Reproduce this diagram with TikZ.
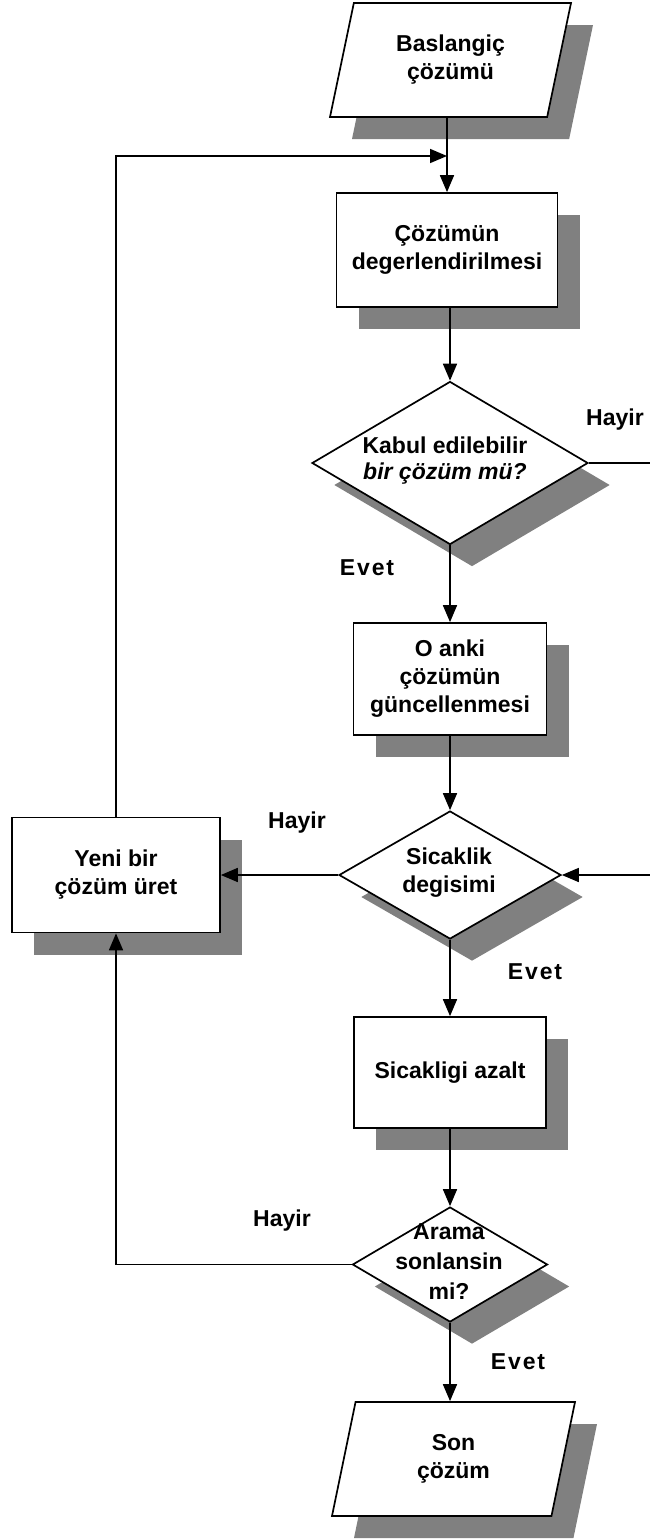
\documentclass[tikz,border=0pt]{standalone}
\usepackage{fontspec}
\setmainfont{Liberation Sans}
\newfontfamily\spacedfont[LetterSpace=8]{Liberation Sans}
\usetikzlibrary{shapes.geometric,shadows,arrows.meta}
\begin{document}
\begin{tikzpicture}[x=1pt,y=-1pt,
  txt/.style={font=\fontsize{23}{28}\selectfont\bfseries, align=center},
  shp/.style={txt, draw=black, line width=1.7pt, fill=white, inner sep=0pt,
    drop shadow={shadow xshift=22pt, shadow yshift=-22pt, fill=black!50, opacity=1}},
  box/.style={shp, rectangle},
  dec/.style={shp, diamond},
  io/.style={shp, trapezium, trapezium left angle=64.25, trapezium right angle=115.75,
    trapezium stretches body},
  lbl/.style={font=\fontsize{23}{28}\selectfont\bfseries},
  evetlbl/.style={font=\fontsize{23}{28}\spacedfont\bfseries},
  conn/.style={line width=1.7pt},
  arr/.style={conn, -{Triangle[length=17pt,width=14pt]}}
]
\useasboundingbox (0,0) rectangle (650,1539);

% shapes
\node[io, minimum width=241pt, minimum height=114pt] (start) at (450.5,60) {Baslangiç\\çözümü};
\node[box, minimum width=221pt, minimum height=114pt] (box1) at (447,250) {Çözümün\\degerlendirilmesi};
\node[dec, minimum width=276pt, minimum height=163pt] (d1) at (450,463) {};
\node[txt, font=\fontsize{23}{26}\selectfont\bfseries] (d1t) at (445,461) {Kabul edilebilir\\\textit{bir çözüm mü?}};
\node[box, minimum width=193pt, minimum height=112pt] (box2) at (450,679) {O anki\\çözümün\\güncellenmesi};
\node[dec, minimum width=222pt, minimum height=128pt] (d2) at (450,875) {};
\node[txt] (d2t) at (449,873) {Sicaklik\\degisimi};
\node[box, minimum width=208pt, minimum height=115pt] (yeni) at (116,875) {Yeni bir\\çözüm üret};
\node[box, minimum width=192pt, minimum height=111pt] (box3) at (450,1072.5) {Sicakligi azalt};
\node[dec, minimum width=195pt, minimum height=115pt] (d3) at (450,1264.5) {};
\node[txt, font=\fontsize{23}{30}\selectfont\bfseries] (d3t) at (449,1262) {Arama\\sonlansin\\mi?};
\node[io, minimum width=243pt, minimum height=114pt] (final) at (453.5,1459) {Son\\çözüm};

% labels
\node[lbl] (h1) at (615,420) {Hayir};
\node[evetlbl] (e1) at (367,568) {Evet};
\node[lbl] (h2) at (297,823) {Hayir};
\node[evetlbl] (e2) at (535,972) {Evet};
\node[lbl] (h3) at (282,1221) {Hayir};
\node[evetlbl] (e3) at (518,1362) {Evet};

% helper coordinates
\coordinate (loopy) at (0,156);
\coordinate (join) at (box1.north |- loopy);
\coordinate (r1) at (650,463);
\coordinate (r2) at (650,875);

% connectors
\draw[arr] (box1.north |- start.south) -- (box1.north);
\draw[arr] (yeni.north) |- (join);
\draw[arr] (box1.south -| d1.north) -- (d1.north);
\draw[conn] (d1.east) -- (r1);
\draw[arr] (d1.south) -- (box2.north);
\draw[arr] (box2.south) -- (d2.north);
\draw[arr] (r2) -- (d2.east);
\draw[arr] (d2.west) -- (yeni.east);
\draw[arr] (d2.south) -- (box3.north);
\draw[arr] (box3.south) -- (d3.north);
\draw[arr] (d3.west) -| (yeni.south);
\draw[arr] (d3.south) -- (d3.south |- final.north);
\end{tikzpicture}
\end{document}
